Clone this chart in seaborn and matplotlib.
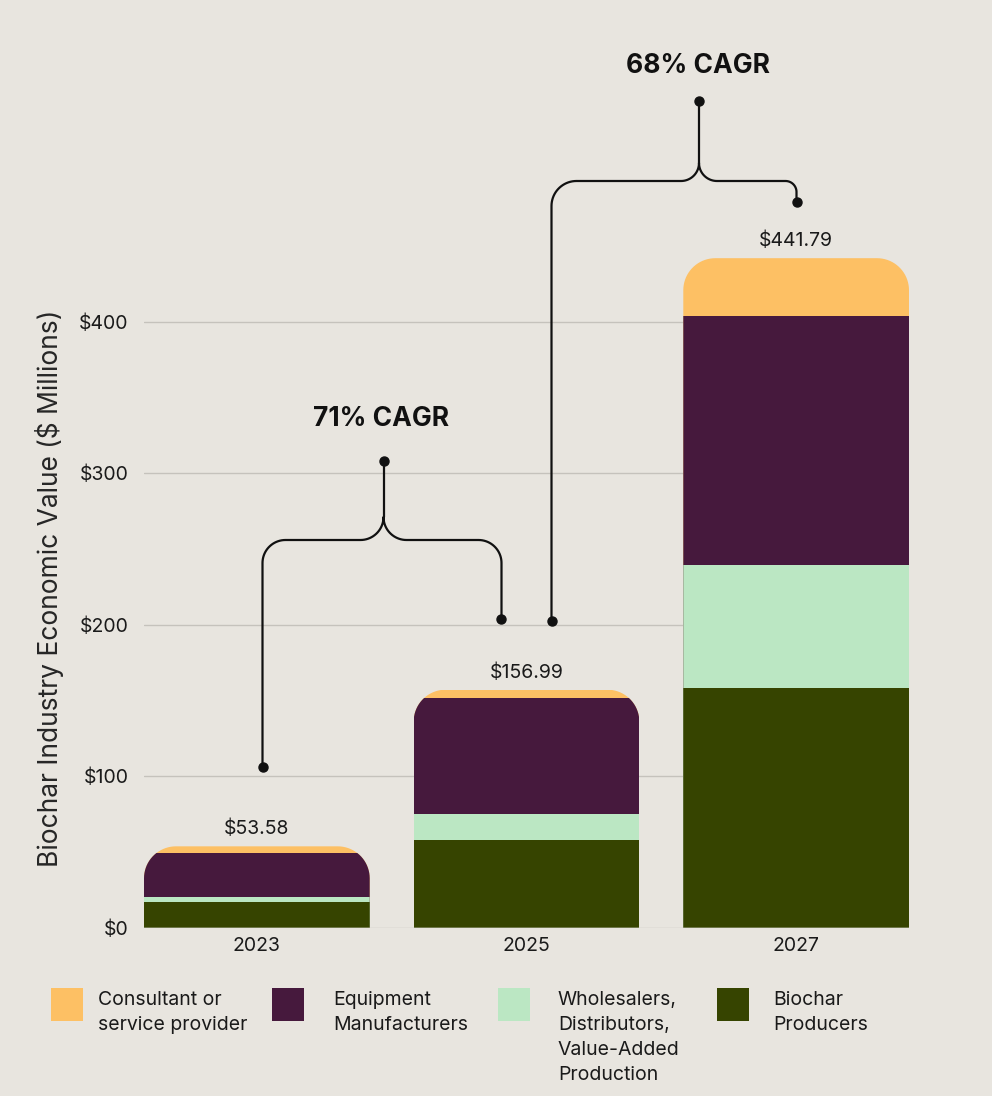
import matplotlib
matplotlib.use("Agg")
import matplotlib.pyplot as plt
import seaborn as sns
import numpy as np
import pandas as pd
from matplotlib.path import Path
from matplotlib.patches import Rectangle
from matplotlib.lines import Line2D

# ---------------- data ----------------
years = ["2023", "2025", "2027"]
producers = [16.7, 57.5, 157.8]
wholesalers = [3.3, 17.1, 81.8]
equipment = [29.0, 77.0, 163.9]
consultant = [4.58, 5.39, 38.29]
total_labels = ["$53.58", "$156.99", "$441.79"]
series_names = ["Consultant or\nservice provider", "Equipment\nManufacturers",
                "Wholesalers,\nDistributors,\nValue-Added\nProduction", "Biochar\nProducers"]
series_colors = ["#FDC064", "#46193D", "#BBE7C3", "#364400"]
ytick_values = [0, 100, 200, 300, 400]
ytick_labels = ["$0", "$100", "$200", "$300", "$400"]
cagr_labels = ["71% CAGR", "68% CAGR"]
ylabel = "Biochar Industry Economic Value ($ Millions)"

BG = "#E8E5DF"
GRID = "#C5C2BC"
W, H = 992, 1096

sns.set_style("white", {"axes.facecolor": BG, "figure.facecolor": BG})
plt.rcParams["font.family"] = ["Inter", "DejaVu Sans"]
plt.rcParams["text.color"] = "#1a1a1a"

fig = plt.figure(figsize=(W / 100, H / 100), dpi=100)
fig.patch.set_facecolor(BG)

def fx(px):
    return px / W

def fy(py):
    return 1 - py / H

ax = fig.add_axes([fx(144), fy(927.5), (909 - 144) / W, 757.5 / H])
ax.set_facecolor(BG)

bar_w = 0.837
df = pd.DataFrame({
    "year": years,
    "producers": producers,
    "wholesalers": wholesalers,
    "equipment": equipment,
    "consultant": consultant,
})
df["c1"] = df["producers"]
df["c2"] = df["c1"] + df["wholesalers"]
df["c3"] = df["c2"] + df["equipment"]
df["c4"] = df["c3"] + df["consultant"]

# draw from top cumulative layer down
layer_cols = ["c4", "c3", "c2", "c1"]
for col, color in zip(layer_cols, series_colors):
    sns.barplot(data=df, x="year", y=col, color=color, width=bar_w,
                saturation=1, errorbar=None, linewidth=0, ax=ax, zorder=3)

ax.set_xlim(-bar_w / 2, len(years) - 1 + bar_w / 2)
ax.set_ylim(0, 500)
ax.set_yticks(ytick_values)
ax.set_yticklabels(ytick_labels)
ax.set_xlabel("")
ax.set_ylabel(ylabel, fontsize=19, va="center")
ax.yaxis.set_label_coords(-0.123, 0.448)
ax.tick_params(axis="both", length=0, labelsize=14, colors="#1a1a1a")
ax.tick_params(axis="y", pad=11)
ax.tick_params(axis="x", pad=7)
for s in ax.spines.values():
    s.set_visible(False)
ax.set_axisbelow(True)
ax.yaxis.grid(True, color=GRID, linewidth=1.0)
ax.xaxis.grid(False)

# rounded top corners via clip paths
fig.canvas.draw()
p0 = ax.transData.transform((0, 0))
p1 = ax.transData.transform((1, 100))
px_per_x = p1[0] - p0[0]
px_per_y = (p1[1] - p0[1]) / 100
r_px = 32
rx = r_px / px_per_x
ry = r_px / px_per_y

def rounded_top(xc, top):
    x0, x1 = xc - bar_w / 2, xc + bar_w / 2
    verts = [(x0, 0)]
    th = np.linspace(np.pi, np.pi / 2, 20)
    verts += [(x0 + rx + rx * np.cos(t), top - ry + ry * np.sin(t)) for t in th]
    th = np.linspace(np.pi / 2, 0, 20)
    verts += [(x1 - rx + rx * np.cos(t), top - ry + ry * np.sin(t)) for t in th]
    verts += [(x1, 0), (x0, 0)]
    return Path(verts, closed=True)

clip_paths = [rounded_top(i, t) for i, t in enumerate(df["c4"])]
for patch in ax.patches:
    xc = patch.get_x() + patch.get_width() / 2
    i = int(round(xc))
    patch.set_clip_path(clip_paths[i], ax.transData)

for i, (t, lab) in enumerate(zip(df["c4"], total_labels)):
    ax.annotate(lab, (i, t), xytext=(0, 12.5), textcoords="offset points",
                ha="center", va="center", fontsize=14, color="#1a1a1a")

# ---------------- brackets (pixel geometry) ----------------
def arc(cx, cy, r, a0, a1, n=20):
    t = np.radians(np.linspace(a0, a1, n))
    return list(zip(cx + r * np.cos(t), cy + r * np.sin(t)))

def bracket(xl, yl, xr, yr, xc, yh, ytop, rl, rr, rc):
    pts = [(xl, yl)]
    pts += arc(xl + rl, yh + rl, rl, 180, 270)
    pts += arc(xc - rc, yh - rc, rc, 90, 0)
    pts += arc(xc + rc, yh - rc, rc, 180, 90)
    pts += arc(xr - rr, yh + rr, rr, 270, 360)
    pts += [(xr, yr)]
    xs = [fx(p[0]) for p in pts]
    ys = [fy(p[1]) for p in pts]
    fig.add_artist(Line2D(xs, ys, transform=fig.transFigure, color="#111111",
                          lw=1.6, solid_capstyle="round", solid_joinstyle="round"))
    fig.add_artist(Line2D([fx(xc), fx(xc)], [fy(yh - rc), fy(ytop)],
                          transform=fig.transFigure, color="#111111", lw=1.6))
    for (x, y) in [(xl, yl), (xr, yr), (xc, ytop)]:
        fig.add_artist(Line2D([fx(x)], [fy(y)], transform=fig.transFigure,
                              marker="o", markersize=6.5, color="#111111", lw=0))

bracket(262.5, 767, 501.5, 619, 383.5, 540, 461, 23, 23, 23)
bracket(551.5, 621, 796.5, 202, 699, 181, 101, 25, 11, 18)

fig.text(fx(381), fy(419), cagr_labels[0], ha="center", va="center",
         fontsize=19, fontweight="bold", color="#111111")
fig.text(fx(698), fy(66), cagr_labels[1], ha="center", va="center",
         fontsize=19, fontweight="bold", color="#111111")

# ---------------- legend ----------------
leg_x = [51, 272, 498, 717]
txt_x = [98, 333, 558, 773]
for name, color, lx, tx in zip(series_names, series_colors, leg_x, txt_x):
    fig.add_artist(Rectangle((fx(lx), fy(1021)), 32 / W, 33 / H,
                             transform=fig.transFigure, facecolor=color,
                             edgecolor="none"))
    fig.text(fx(tx), fy(991), name, ha="left", va="top", fontsize=14,
             linespacing=1.5, color="#1a1a1a")

fig.savefig("out.png", dpi=100, facecolor=BG)
